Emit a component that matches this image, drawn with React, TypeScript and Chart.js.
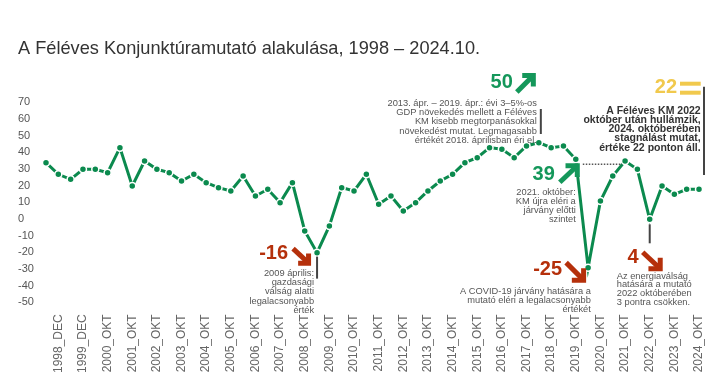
import React, { useEffect, useRef } from "react";
import { Chart, registerables } from "chart.js";

Chart.register(...registerables);

const periods = [
  "1998_JÚN", "1998_DEC", "1999_JÚN", "1999_DEC",
  "2000_ÁPR", "2000_OKT", "2001_ÁPR", "2001_OKT", "2002_ÁPR", "2002_OKT",
  "2003_ÁPR", "2003_OKT", "2004_ÁPR", "2004_OKT", "2005_ÁPR", "2005_OKT",
  "2006_ÁPR", "2006_OKT", "2007_ÁPR", "2007_OKT", "2008_ÁPR", "2008_OKT",
  "2009_ÁPR", "2009_OKT", "2010_ÁPR", "2010_OKT", "2011_ÁPR", "2011_OKT",
  "2012_ÁPR", "2012_OKT", "2013_ÁPR", "2013_OKT", "2014_ÁPR", "2014_OKT",
  "2015_ÁPR", "2015_OKT", "2016_ÁPR", "2016_OKT", "2017_ÁPR", "2017_OKT",
  "2018_ÁPR", "2018_OKT", "2019_ÁPR", "2019_OKT", "2020_ÁPR", "2020_OKT",
  "2021_ÁPR", "2021_OKT", "2022_ÁPR", "2022_OKT", "2023_ÁPR", "2023_OKT",
  "2024_ÁPR", "2024_OKT",
];

const kmValues = [
  38, 31, 28, 34,
  34, 32, 47, 24, 39, 34,
  32, 27, 31, 26, 23, 21,
  30, 18, 22, 14, 26, -3,
  -16, 0, 23, 21, 31, 13,
  18, 9, 14, 21, 27, 31,
  38, 41, 47, 46, 41, 48,
  50, 47, 48, 40, -25, 15,
  30, 39, 34, 4, 24, 19,
  22, 22,
];

const yMin = -50;
const yMax = 70;
const yStep = 10;

const TITLE = "A Féléves Konjunktúramutató alakulása, 1998 – 2024.10.";

const FONT = "'Liberation Sans', Arial, Helvetica, sans-serif";
const GREEN_LINE = "#0b8a4e";
const GREEN = "#14975a";
const RED = "#b5300b";
const YELLOW = "#f1c94d";
const GRAY_TEXT = "#555555";
const DARK = "#444444";

function drawArrow(ctx: CanvasRenderingContext2D, x0: number, y0: number, x1: number, y1: number, dir: "ne" | "se", color: string) {
  const lw = 5;
  const w = x1 - x0;
  const h = y1 - y0;
  ctx.save();
  ctx.strokeStyle = color;
  ctx.lineWidth = lw;
  ctx.lineCap = "butt";
  ctx.lineJoin = "miter";
  ctx.beginPath();
  if (dir === "ne") {
    ctx.moveTo(x0 + 1, y1 - 1);
    ctx.lineTo(x1 - lw / 2 - 1, y0 + lw / 2 + 1);
    ctx.stroke();
    ctx.beginPath();
    ctx.moveTo(x0 + w * 0.32, y0 + lw / 2);
    ctx.lineTo(x1 - lw / 2, y0 + lw / 2);
    ctx.lineTo(x1 - lw / 2, y1 - h * 0.32);
    ctx.stroke();
  } else {
    ctx.moveTo(x0 + 1, y0 + 1);
    ctx.lineTo(x1 - lw / 2 - 1, y1 - lw / 2 - 1);
    ctx.stroke();
    ctx.beginPath();
    ctx.moveTo(x1 - lw / 2, y0 + h * 0.32);
    ctx.lineTo(x1 - lw / 2, y1 - lw / 2);
    ctx.lineTo(x0 + w * 0.32, y1 - lw / 2);
    ctx.stroke();
  }
  ctx.restore();
}

function textLines(ctx: CanvasRenderingContext2D, lines: string[], x: number, y: number, lh: number, align: CanvasTextAlign, font: string, color: string) {
  ctx.save();
  ctx.font = font;
  ctx.fillStyle = color;
  ctx.textAlign = align;
  ctx.textBaseline = "middle";
  lines.forEach((l, i) => ctx.fillText(l, x, y + i * lh));
  ctx.restore();
}

function vLine(ctx: CanvasRenderingContext2D, x: number, y0: number, y1: number, color = DARK, w = 2) {
  ctx.save();
  ctx.strokeStyle = color;
  ctx.lineWidth = w;
  ctx.beginPath();
  ctx.moveTo(x, y0);
  ctx.lineTo(x, y1);
  ctx.stroke();
  ctx.restore();
}

function bigNum(ctx: CanvasRenderingContext2D, s: string, xRight: number, y: number, color: string) {
  ctx.save();
  ctx.font = `bold 20px ${FONT}`;
  ctx.fillStyle = color;
  ctx.textAlign = "right";
  ctx.textBaseline = "middle";
  ctx.fillText(s, xRight, y + 1);
  ctx.restore();
}

const annotationPlugin = {
  id: "kmAnnotations",
  afterDraw(chart: any) {
    const ctx: CanvasRenderingContext2D = chart.ctx;
    const xs = chart.scales.x;
    const ys = chart.scales.y;
    const px = (i: number) => xs.getPixelForValue(i);
    const py = (i: number) => ys.getPixelForValue(kmValues[i]);
    const small = `9.3px ${FONT}`;
    const lh = 9.3;

    // title
    ctx.save();
    ctx.font = `18.2px ${FONT}`;
    ctx.fillStyle = "#333333";
    ctx.textAlign = "left";
    ctx.textBaseline = "middle";
    ctx.fillText(TITLE, 18, 49);
    ctx.restore();

    // -16 (2009 április)
    {
      const x = px(22), y = py(22);
      vLine(ctx, x, y + 4, y + 26);
      bigNum(ctx, "-16", x - 29, y, RED);
      drawArrow(ctx, x - 25, y - 5, x - 6, y + 13, "se", RED);
      textLines(ctx, ["2009 április:", "gazdasági", "válság alatti", "legalacsonyabb", "érték"], x - 3, y + 20.6, lh, "right", small, GRAY_TEXT);
    }

    // 50 (2018 április)
    {
      const x = px(40);
      bigNum(ctx, "50", x - 26, 81, GREEN);
      drawArrow(ctx, x - 23, 73, x - 3, 93, "ne", GREEN);
      textLines(ctx, [
        "2013. ápr. – 2019. ápr.: évi 3–5%-os",
        "GDP növekedés mellett a Féléves",
        "KM kisebb megtorpanásokkal",
        "növekedést mutat. Legmagasabb",
        "értékét 2018. áprilisban éri el.",
      ], x - 2, 103.3, lh, "right", small, GRAY_TEXT);
      vLine(ctx, x + 2, 109, 134);
    }

    // 39 (2021 október)
    {
      const x = px(43), y = py(43);
      const x2 = px(47), y2 = py(47);
      bigNum(ctx, "39", x - 21, y + 14, GREEN);
      drawArrow(ctx, x - 17, y + 4, x + 4, y + 24, "ne", GREEN);
      textLines(ctx, ["2021. október:", "KM újra eléri a", "járvány előtti", "szintet"], x, y + 32.7, 9, "right", small, GRAY_TEXT);
      ctx.save();
      ctx.strokeStyle = "#555555";
      ctx.lineWidth = 1.5;
      ctx.setLineDash([1.5, 1.5]);
      ctx.beginPath();
      const ly = (y + y2) / 2 + 4;
      ctx.moveTo(x + 7, ly);
      ctx.lineTo(x2 - 3, ly);
      ctx.stroke();
      ctx.restore();
    }

    // -25 (COVID)
    {
      const x = px(44), y = py(44);
      bigNum(ctx, "-25", x - 26, y + 1, RED);
      drawArrow(ctx, x - 23, y - 6, x - 2, y + 15, "se", RED);
      textLines(ctx, ["A COVID-19 járvány hatására a", "mutató eléri a legalacsonyabb", "értékét"], x + 2.7, y + 23.3, lh, "right", small, GRAY_TEXT);
    }

    // 4 (2022 október)
    {
      const x = px(49), y = py(49);
      vLine(ctx, x, y + 5, y + 24);
      bigNum(ctx, "4", x - 11, y + 37, RED);
      drawArrow(ctx, x - 8, y + 32, x + 13, y + 52, "se", RED);
      textLines(ctx, ["Az energiaválság", "hatására a mutató", "2022 októberében", "3 pontra csökken."], x - 33, y + 56.7, 8.8, "left", small, GRAY_TEXT);
    }

    // 22 (2024 október)
    {
      const x = px(53);
      bigNum(ctx, "22", x - 22, 86, YELLOW);
      ctx.save();
      ctx.fillStyle = YELLOW;
      ctx.fillRect(x - 19, 81.7, 20.7, 4);
      ctx.fillRect(x - 19, 90.7, 20.7, 4);
      ctx.restore();
      textLines(ctx, [
        "A Féléves KM 2022",
        "október után hullámzik,",
        "2024. októberében",
        "stagnálást mutat,",
        "értéke 22 ponton áll.",
      ], x + 1.7, 110.7, 9.3, "right", `bold 10.5px ${FONT}`, "#333333");
      vLine(ctx, x + 5, 86.7, 175);
    }
  },
};

export default function App() {
  const canvasRef = useRef<HTMLCanvasElement | null>(null);

  useEffect(() => {
    document.body.style.margin = "0";
    const canvas = canvasRef.current;
    if (!canvas) return;
    const chart = new Chart(canvas, {
      type: "line",
      data: {
        labels: periods,
        datasets: [
          {
            data: kmValues,
            borderColor: GREEN_LINE,
            borderWidth: 3,
            pointRadius: 3.5,
            pointBackgroundColor: GREEN_LINE,
            pointBorderColor: "#ffffff",
            pointBorderWidth: 1.5,
            tension: 0,
          },
        ],
      },
      options: {
        responsive: false,
        animation: false,
        devicePixelRatio: 1,
        layout: { padding: { left: 18, right: 29, top: 109.3, bottom: 0 } },
        plugins: {
          legend: { display: false },
          title: { display: false },
          tooltip: { enabled: false },
        },
        scales: {
          x: {
            type: "category",
            offset: false,
            grid: { display: false, drawTicks: false },
            border: { display: false },
            ticks: {
              autoSkip: false,
              maxRotation: 90,
              minRotation: 90,
              padding: 5,
              color: "#666666",
              font: { family: FONT, size: 12 },
              callback: (_v: any, i: number) => (i % 2 === 1 ? periods[i] : ""),
            },
            afterFit: (s: any) => {
              s.height = 386 - 309.3;
            },
          },
          y: {
            min: yMin,
            max: yMax,
            grid: { display: false, drawTicks: false },
            border: { display: false },
            ticks: {
              stepSize: yStep,
              crossAlign: "far",
              labelOffset: -7,
              padding: 0,
              color: "#555555",
              font: { family: FONT, size: 11 },
            },
            afterFit: (s: any) => {
              s.width = 28;
            },
          },
        },
      },
      plugins: [annotationPlugin],
    } as any);
    return () => chart.destroy();
  }, []);

  return <canvas ref={canvasRef} width={728} height={386} style={{ display: "block" }} />;
}
